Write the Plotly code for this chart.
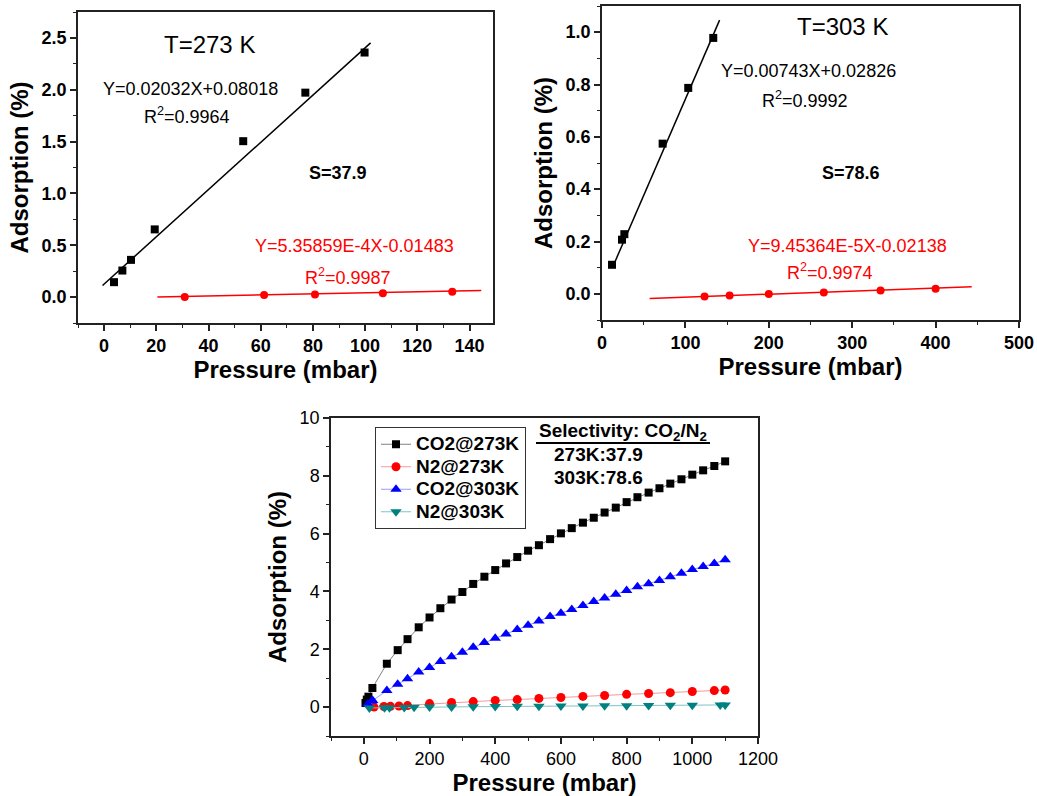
import plotly.graph_objects as go

W, H = 1037, 796
FONT = "Liberation Sans"

# ---------------- data: top-left (T = 273 K) ----------------
tl_co2_p = [3.8, 7.0, 10.3, 19.4, 53.3, 77.1, 99.8]
tl_co2_a = [0.144, 0.256, 0.359, 0.653, 1.504, 1.972, 2.359]
tl_co2_fit_p = [-0.6, 102.1]
tl_co2_fit_a = [0.112, 2.452]
tl_n2_p = [30.9, 61.3, 80.8, 106.8, 133.4]
tl_n2_a = [0.0, 0.019, 0.026, 0.038, 0.051]
tl_n2_fit_p = [20.4, 144.5]
tl_n2_fit_a = [0.0, 0.064]

# ---------------- data: top-right (T = 303 K) ----------------
tr_co2_p = [12.0, 24.0, 26.8, 72.7, 103.4, 133.4]
tr_co2_a = [0.111, 0.207, 0.228, 0.574, 0.787, 0.978]
tr_co2_fit_p = [14.8, 141.0]
tr_co2_fit_a = [0.117, 1.046]
tr_n2_p = [123, 153, 200, 266, 334, 400]
tr_n2_a = [-0.010, -0.006, -0.001, 0.005, 0.013, 0.019]
tr_n2_fit_p = [57.1, 443.3]
tr_n2_fit_a = [-0.018, 0.027]

# ---------------- data: bottom (full isotherms) ----------------
co2_273_p = [5, 9, 14, 26, 70, 103, 133, 167, 200, 233, 267, 300, 333, 367, 400, 433,
             467, 500, 533, 567, 600, 633, 667, 700, 733, 767, 800, 833, 867, 900,
             933, 967, 1000, 1033, 1067, 1100]
co2_273_a = [0.14, 0.26, 0.36, 0.66, 1.50, 1.97, 2.35, 2.76, 3.10, 3.42, 3.72, 3.98, 4.26,
             4.51, 4.74, 4.97, 5.19, 5.41, 5.60, 5.81, 6.01, 6.19, 6.38, 6.55, 6.73, 6.90,
             7.09, 7.26, 7.42, 7.57, 7.73, 7.88, 8.04, 8.19, 8.34, 8.50]
n2_273_p = [31, 61, 81, 107, 133, 200, 267, 333, 400, 467, 533, 600, 667, 733, 800, 867,
            933, 1000, 1067, 1100]
n2_273_a = [0.0, 0.02, 0.026, 0.038, 0.051, 0.12, 0.16, 0.19, 0.23, 0.26, 0.30, 0.33, 0.37,
            0.40, 0.44, 0.47, 0.50, 0.54, 0.57, 0.59]
co2_303_p = [12, 24, 27, 70, 103, 133, 167, 200, 233, 267, 300, 333, 367, 400, 433, 467,
             500, 533, 567, 600, 633, 667, 700, 733, 767, 800, 833, 867, 900, 933, 967,
             1000, 1033, 1067, 1100]
co2_303_a = [0.11, 0.21, 0.23, 0.57, 0.79, 0.98, 1.21, 1.37, 1.58, 1.74, 1.90, 2.07, 2.23,
             2.38, 2.53, 2.68, 2.83, 2.98, 3.13, 3.25, 3.38, 3.51, 3.65, 3.77, 3.90, 4.03,
             4.16, 4.27, 4.38, 4.51, 4.63, 4.76, 4.86, 4.97, 5.10]
n2_303_p = [17, 63, 78, 123, 153, 200, 267, 333, 400, 467, 533, 600, 667, 733, 800, 867,
            933, 1000, 1085, 1100]
n2_303_a = [-0.03, -0.02, -0.02, -0.01, -0.006, -0.001, 0.005, 0.013, 0.019, 0.025, 0.03,
            0.035, 0.04, 0.045, 0.05, 0.055, 0.06, 0.065, 0.07, 0.075]

series_names = ["CO2@273K", "N2@273K", "CO2@303K", "N2@303K"]


def px(x):
    return x / W


def py(y):
    return 1 - y / H


def leg(name):
    return "<span style='font-size:19px'>" + name + "</span>"


fig = go.Figure()

# top-left
fig.add_trace(go.Scatter(x=tl_co2_fit_p, y=tl_co2_fit_a, mode="lines",
                         line=dict(color="black", width=1.5), showlegend=False,
                         xaxis="x", yaxis="y"))
fig.add_trace(go.Scatter(x=tl_co2_p, y=tl_co2_a, mode="markers",
                         marker=dict(symbol="square", color="black", size=8), showlegend=False,
                         xaxis="x", yaxis="y"))
fig.add_trace(go.Scatter(x=tl_n2_fit_p, y=tl_n2_fit_a, mode="lines",
                         line=dict(color="#ff0000", width=1.5), showlegend=False,
                         xaxis="x", yaxis="y"))
fig.add_trace(go.Scatter(x=tl_n2_p, y=tl_n2_a, mode="markers",
                         marker=dict(symbol="circle", color="#ff0000", size=8), showlegend=False,
                         xaxis="x", yaxis="y"))

# top-right
fig.add_trace(go.Scatter(x=tr_co2_fit_p, y=tr_co2_fit_a, mode="lines",
                         line=dict(color="black", width=1.5), showlegend=False,
                         xaxis="x2", yaxis="y2"))
fig.add_trace(go.Scatter(x=tr_co2_p, y=tr_co2_a, mode="markers",
                         marker=dict(symbol="square", color="black", size=8), showlegend=False,
                         xaxis="x2", yaxis="y2"))
fig.add_trace(go.Scatter(x=tr_n2_fit_p, y=tr_n2_fit_a, mode="lines",
                         line=dict(color="#ff0000", width=1.5), showlegend=False,
                         xaxis="x2", yaxis="y2"))
fig.add_trace(go.Scatter(x=tr_n2_p, y=tr_n2_a, mode="markers",
                         marker=dict(symbol="circle", color="#ff0000", size=8), showlegend=False,
                         xaxis="x2", yaxis="y2"))

# bottom
fig.add_trace(go.Scatter(x=co2_273_p, y=co2_273_a, mode="lines+markers", name=leg(series_names[0]),
                         line=dict(color="#808080", width=1),
                         marker=dict(symbol="square", color="black", size=8),
                         xaxis="x3", yaxis="y3"))
fig.add_trace(go.Scatter(x=n2_273_p, y=n2_273_a, mode="lines+markers", name=leg(series_names[1]),
                         line=dict(color="#f39a9a", width=1),
                         marker=dict(symbol="circle", color="#ff0000", size=9),
                         xaxis="x3", yaxis="y3"))
fig.add_trace(go.Scatter(x=co2_303_p, y=co2_303_a, mode="lines+markers", name=leg(series_names[2]),
                         line=dict(color="#9a9af3", width=1),
                         marker=dict(symbol="triangle-up", color="#0000ff", size=10),
                         xaxis="x3", yaxis="y3"))
fig.add_trace(go.Scatter(x=n2_303_p, y=n2_303_a, mode="lines+markers", name=leg(series_names[3]),
                         line=dict(color="#7fc4c4", width=1),
                         marker=dict(symbol="triangle-down", color="#008080", size=10),
                         xaxis="x3", yaxis="y3"))


def axis(domain, rng, dtick, minor, anchor, title, fmt=None, bold=True, standoff=6):
    d = dict(domain=domain, range=rng, tick0=0, dtick=dtick, anchor=anchor,
             automargin=False,
             showline=True, mirror=True, linecolor="#222222", linewidth=1.5,
             ticks="outside", ticklen=6, tickwidth=1.5, tickcolor="#222222",
             minor=dict(dtick=minor, tick0=0, ticks="outside", ticklen=3.5, tickwidth=1.2,
                        tickcolor="#222222", showgrid=False),
             showgrid=False, zeroline=False,
             tickfont=dict(family=FONT, size=18, color="black",
                           weight="bold" if bold else "normal"),
             title=dict(text=title, standoff=standoff,
                        font=dict(family=FONT, size=24, color="black", weight="bold")))
    if fmt:
        d["tickformat"] = fmt
    return d


fig.update_layout(
    width=W, height=H,
    margin=dict(l=0, r=0, t=0, b=0, autoexpand=False),
    paper_bgcolor="white", plot_bgcolor="white",
    font=dict(family=FONT, color="black"),
    xaxis=axis([px(78), px(493)], [-10, 149], 20, 10, "y", "Pressure (mbar)"),
    yaxis=axis([py(323), py(12)], [-0.25, 2.75], 0.5, 0.25, "x", "Adsorption (%)", fmt=".1f"),
    xaxis2=axis([px(602), px(1019)], [0, 500], 100, 50, "y2", "Pressure (mbar)"),
    yaxis2=axis([py(320), py(6)], [-0.1, 1.1], 0.2, 0.1, "x2", "Adsorption (%)", fmt=".1f"),
    xaxis3=axis([px(331), px(758)], [-100, 1200], 200, 100, "y3", "Pressure (mbar)", bold=False),
    yaxis3=axis([py(736), py(418)], [-1, 10], 2, 1, "x3", "Adsorption (%)", bold=False),
    legend=dict(x=px(375), y=py(427), xanchor="left", yanchor="top",
                bgcolor="white", bordercolor="#333333", borderwidth=1,
                font=dict(family=FONT, size=15, color="black", weight="bold"),
                tracegroupgap=0, itemwidth=30),
)


def ann(text, x, y, size=18, color="black", bold=False, xanchor="center"):
    fig.add_annotation(text=text, x=px(x), y=py(y), xref="paper", yref="paper",
                       showarrow=False, xanchor=xanchor, yanchor="middle",
                       font=dict(family=FONT, size=size, color=color,
                                 weight="bold" if bold else "normal"))


ann("T=273 K", 209, 44, size=24)
ann("Y=0.02032X+0.08018", 190, 89)
ann("R<sup>2</sup>=0.9964", 187, 116)
ann("S=37.9", 338, 173, bold=True)
ann("Y=5.35859E-4X-0.01483", 354, 246, color="#ff0000")
ann("R<sup>2</sup>=0.9987", 348, 276, color="#ff0000")

ann("T=303 K", 842, 27, size=24)
ann("Y=0.00743X+0.02826", 808, 71)
ann("R<sup>2</sup>=0.9992", 805, 99)
ann("S=78.6", 851, 173, bold=True)
ann("Y=9.45364E-5X-0.02138", 847, 246, color="#ff0000")
ann("R<sup>2</sup>=0.9974", 830, 272, color="#ff0000")

ann("Selectivity: CO<sub>2</sub>/N<sub>2</sub>", 623, 432, size=19, bold=True)
ann("273K:37.9", 552, 455, size=19, bold=True, xanchor="left")
ann("303K:78.6", 552, 477, size=19, bold=True, xanchor="left")

fig.add_shape(type="line", xref="paper", yref="paper",
              x0=px(536), x1=px(710), y0=py(443), y1=py(443),
              line=dict(color="black", width=2))

fig.write_html("out.html")
